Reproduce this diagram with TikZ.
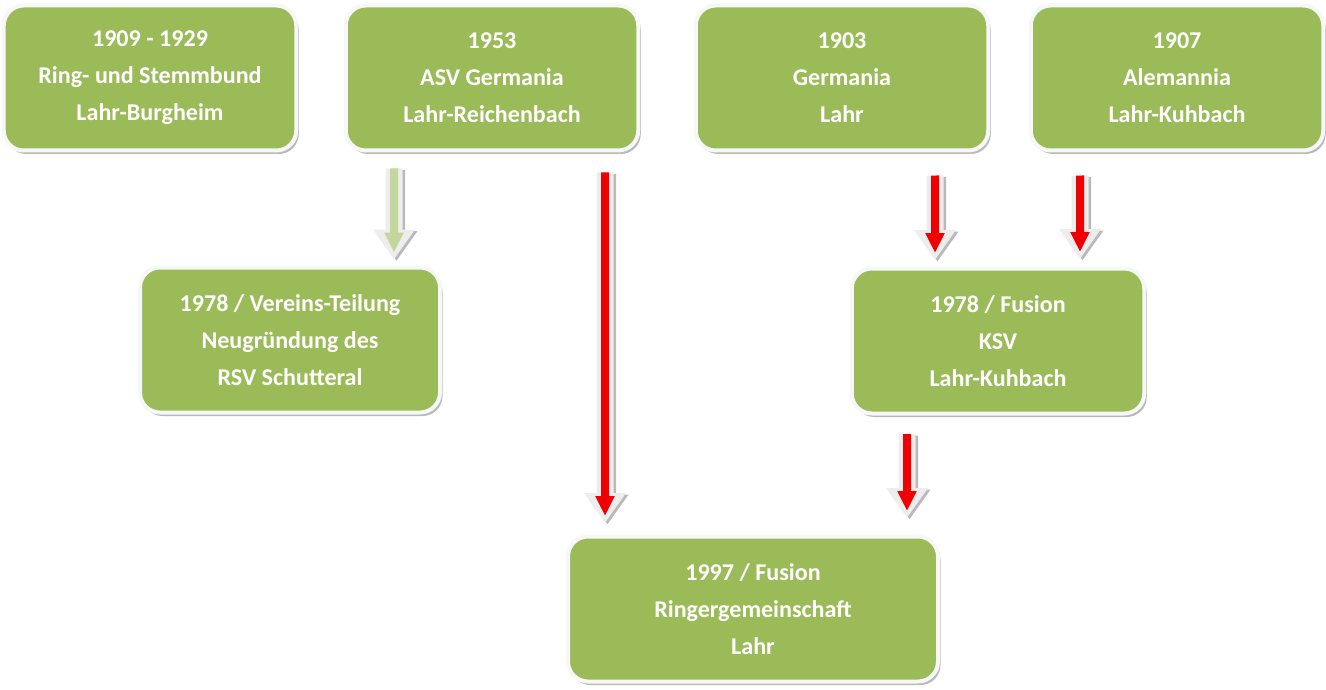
\documentclass[tikz,border=0pt]{standalone}
\usepackage{fontspec}
\setmainfont{Carlito}
\usepackage{tikz}
\usetikzlibrary{arrows.meta}
\usetikzlibrary{calc}
\usetikzlibrary{shadows}

\definecolor{clubgreen}{HTML}{9BBB59}
\definecolor{splitgreen}{HTML}{C3D69B}
\definecolor{fusionred}{HTML}{F00000}

\tikzset{
  clubbox/.style={draw=gray!6, line width=0.08cm, fill=clubgreen, rounded corners=0.4cm,
    minimum width=5.85cm, minimum height=2.9cm, align=center, text=white,
    font=\bfseries\fontsize{13.7}{21}\selectfont,
    drop shadow={shadow xshift=0.05cm, shadow yshift=-0.07cm, fill=gray!55, opacity=1}},
  arrowrim/.style={draw=gray!14, line width=0.34cm, -{Triangle[width=0.8cm,length=0.6cm]}},
  arrowdark/.style={draw=gray!55, line width=0.34cm, -{Triangle[width=0.8cm,length=0.6cm]}},
  arrowcore/.style={line width=0.16cm, -{Triangle[width=0.36cm,length=0.4cm]}, shorten >=0.14cm}
}

\newcommand{\flowarrow}[3]{%
  \draw[arrowdark, transform canvas={xshift=0.05cm, yshift=-0.03cm}] #2 -- #3;
  \draw[arrowrim] #2 -- #3;
  \draw[arrowcore, draw=#1] #2 -- #3;
}

\begin{document}
\begin{tikzpicture}
    \useasboundingbox (0,0) rectangle (26.52,-13.8);
    % top row
    \node[clubbox] (b1909) at (3.0,-1.56) {1909 - 1929\\Ring- und Stemmbund\\Lahr-Burgheim};
    \node[clubbox] (b1953) at (9.84,-1.56) {1953\\ASV Germania\\Lahr-Reichenbach};
    \node[clubbox] (b1903) at (16.84,-1.56) {1903\\Germania\\Lahr};
    \node[clubbox] (b1907) at (23.54,-1.56) {1907\\Alemannia\\Lahr-Kuhbach};
    % middle row
    \node[clubbox, minimum width=6.0cm] (b1978t) at (5.8,-6.8) {1978 / Vereins-Teilung\\Neugründung des\\RSV Schutteral};
    \node[clubbox] (b1978f) at (19.96,-6.82) {1978 / Fusion\\KSV\\Lahr-Kuhbach};
    % bottom
    \node[clubbox, minimum width=7.4cm] (b1997) at (15.06,-12.18) {1997 / Fusion\\Ringergemeinschaft\\Lahr};
    % arrows
    \flowarrow{splitgreen}{($(b1953.south)+(-1.96,-0.32)$)}{($(b1978t.north)+(2.08,0.12)$)}
    \flowarrow{fusionred}{($(b1953.south)+(2.26,-0.4)$)}{($(b1997.north)+(-2.96,0.23)$)}
    \flowarrow{fusionred}{($(b1903.south)+(1.86,-0.46)$)}{($(b1978f.north)+(-1.26,0.13)$)}
    \flowarrow{fusionred}{($(b1907.south)+(-1.94,-0.46)$)}{($(b1978f.north)+(1.64,0.15)$)}
    \flowarrow{fusionred}{($(b1978f.south)+(-1.82,-0.37)$)}{($(b1997.north)+(3.08,0.33)$)}
  \end{tikzpicture}
\end{document}
